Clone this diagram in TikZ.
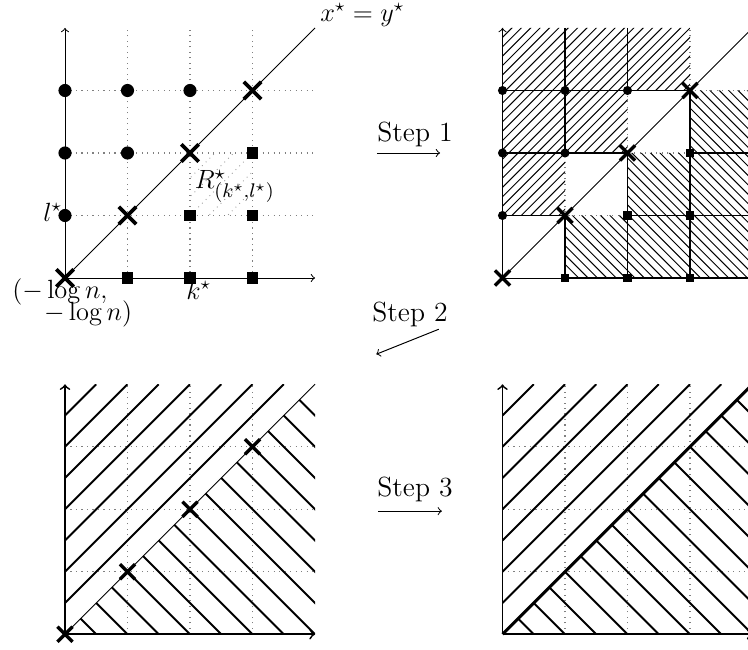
\documentclass[tikz,border=0pt]{standalone}
\usetikzlibrary{shapes.misc}
\begin{document}
\begin{tikzpicture}[x=1cm,y=1cm,
  gridline/.style={gray, dotted, line width=0.5pt},
  rgrid/.style={gray!80, dotted, line width=0.4pt},
  axisthin/.style={->, line width=0.45pt},
  axisthick/.style={->, line width=0.8pt},
  diagthin/.style={line width=0.4pt},
  diagthick/.style={line width=1.3pt},
  edgethick/.style={line width=0.9pt},
  hatchthin/.style={line width=0.45pt},
  hatchthick/.style={line width=0.85pt},
  xmark/.style={cross out, draw, line width=1.7pt, minimum size=0.22cm, inner sep=0pt},
  xmarksmall/.style={cross out, draw, line width=1.5pt, minimum size=0.19cm, inner sep=0pt},
  bigdot/.style={circle, fill, inner sep=0pt, minimum size=0.21cm},
  smalldot/.style={circle, fill, inner sep=0pt, minimum size=0.145cm},
  bigsq/.style={rectangle, fill, inner sep=0pt, minimum size=0.19cm},
  smallsq/.style={rectangle, fill, inner sep=0pt, minimum size=0.135cm},
  lbl/.style={inner sep=0pt, font=\fontsize{12}{14}\selectfont},
  biglbl/.style={inner sep=0pt, font=\fontsize{13.2}{15}\selectfont},
  steplbl/.style={inner sep=0pt, font=\fontsize{12.6}{15}\selectfont},
  steparrow/.style={->, line width=0.45pt}]
\clip (-1.04,-5.936) rectangle (10.928,4.448);

% ---------------- top-left panel ----------------
\begin{scope}
  \foreach \i in {1,2,3} {
    \draw[gridline] (\i,0) -- (\i,4);
    \draw[gridline] (0,\i) -- (4,\i);
  }
  \begin{scope}
    \clip (2,1) rectangle (3,2);
    \foreach \c in {-0.6,-0.3,0,0.3,0.6}
      \draw[rgrid] (1,\c) -- (4,3+\c);
  \end{scope}
  \coordinate (A-o) at (0,0);
  \coordinate (A-x) at (4,0);
  \coordinate (A-y) at (0,4);
  \coordinate (A-d) at (4,4);
  \draw[axisthin] (A-o) -- (A-x);
  \draw[axisthin] (A-o) -- (A-y);
  \draw[diagthin] (A-o) -- (A-d);
  \foreach \p/\q in {0/1,0/2,0/3,1/2,1/3,2/3}
    \node[bigdot] (A-c\p\q) at (\p,\q) {};
  \foreach \p/\q in {1/0,2/0,3/0,2/1,3/1,3/2}
    \node[bigsq] (A-s\p\q) at (\p,\q) {};
  \foreach \p in {0,1,2,3}
    \node[xmark] (A-x\p) at (\p,\p) {};
  \node[lbl, anchor=west] (A-diaglbl) at (4.08,4.21) {$x^\star = y^\star$};
  \node[lbl, anchor=east] (A-l) at (-0.04,1.05) {$l^\star$};
  \node[lbl] (A-k) at (2.14,-0.19) {$k^\star$};
  \node[biglbl] (A-o1) at (-0.08,-0.23) {$(-\log n,$};
  \node[biglbl] (A-o2) at (0.37,-0.58) {$-\log n)$};
  \node[biglbl, anchor=west] (A-R) at (2.07,1.47) {$R^\star_{(k^\star,l^\star)}$};
\end{scope}

% ---------------- top-right panel ----------------
\begin{scope}[shift={(7,0)}]
  \foreach \i in {1,2,3} {
    \draw[gridline] (\i,0) -- (\i,4);
    \draw[gridline] (0,\i) -- (4,\i);
  }
  \begin{scope}
    \clip (0,1) -- (1,1) -- (1,2) -- (2,2) -- (2,3) -- (3,3) -- (3,4) -- (0,4) -- cycle;
    \foreach \k in {-36,...,24}
      \draw[hatchthin] ({\k*0.15+0.05},0) -- ++(5,5);
  \end{scope}
  \begin{scope}
    \clip (1,0) -- (4,0) -- (4,3) -- (3,3) -- (3,2) -- (2,2) -- (2,1) -- (1,1) -- cycle;
    \foreach \k in {0,...,52}
      \draw[hatchthin] ({\k*0.15+0.02},0) -- ++(-5,5);
  \end{scope}
  \coordinate (B-o) at (0,0);
  \coordinate (B-x) at (4,0);
  \coordinate (B-y) at (0,4);
  \coordinate (B-d) at (4,4);
  \draw[axisthin] (B-o) -- (B-x);
  \draw[axisthin] (B-o) -- (B-y);
  \draw[diagthin] (B-o) -- (B-d);
  \foreach \p/\q in {0/1,0/2,0/3,1/2,1/3,2/3,1/0,2/0,3/0,2/1,3/1,3/2}
    \draw[edgethick] (\p,\q+1) -- (\p,\q) -- (\p+1,\q);
  \foreach \p/\q in {0/1,0/2,0/3,1/2,1/3,2/3}
    \node[smalldot] (B-c\p\q) at (\p,\q) {};
  \foreach \p/\q in {1/0,2/0,3/0,2/1,3/1,3/2}
    \node[smallsq] (B-s\p\q) at (\p,\q) {};
  \foreach \p in {0,1,2,3}
    \node[xmarksmall] (B-x\p) at (\p,\p) {};
\end{scope}

% ---------------- bottom-left panel ----------------
\begin{scope}[shift={(0,-5.7)}]
  \foreach \i in {1,2,3} {
    \draw[gridline] (\i,0) -- (\i,4);
    \draw[gridline] (0,\i) -- (4,\i);
  }
  \begin{scope}
    \clip (0,0) rectangle (4,4);
    \foreach \c in {0.5,1.0,...,3.5}
      \draw[hatchthick] (0,\c) -- ({4-\c},4);
    \foreach \c in {0.5,1.0,...,7.5}
      \draw[hatchthick] ({\c/2},{\c/2}) -- (\c,0);
  \end{scope}
  \coordinate (C-o) at (0,0);
  \coordinate (C-x) at (4,0);
  \coordinate (C-y) at (0,4);
  \coordinate (C-d) at (4,4);
  \draw[axisthick] (C-o) -- (C-x);
  \draw[axisthick] (C-o) -- (C-y);
  \draw[diagthin] (C-o) -- (C-d);
  \foreach \p in {0,1,2,3}
    \node[xmarksmall] (C-x\p) at (\p,\p) {};
\end{scope}

% ---------------- bottom-right panel ----------------
\begin{scope}[shift={(7,-5.7)}]
  \foreach \i in {1,2,3} {
    \draw[gridline] (\i,0) -- (\i,4);
    \draw[gridline] (0,\i) -- (4,\i);
  }
  \begin{scope}
    \clip (0,0) rectangle (4,4);
    \foreach \c in {0.5,1.0,...,3.5}
      \draw[hatchthick] (0,\c) -- ({4-\c},4);
    \foreach \c in {0.5,1.0,...,7.5}
      \draw[hatchthick] ({\c/2},{\c/2}) -- (\c,0);
  \end{scope}
  \coordinate (D-o) at (0,0);
  \coordinate (D-x) at (4,0);
  \coordinate (D-y) at (0,4);
  \coordinate (D-d) at (4,4);
  \draw[axisthick] (D-o) -- (D-x);
  \draw[axisthick] (D-o) -- (D-y);
  \draw[diagthick] (D-o) -- (D-d);
\end{scope}

% ---------------- step labels ----------------
\node[steplbl] (s1) at (5.6,2.29) {Step 1};
\coordinate (s1a) at (4.99,2.0);
\coordinate (s1b) at (6.0,2.0);
\draw[steparrow] (s1a) -- (s1b);

\node[steplbl] (s2) at (5.52,-0.59) {Step 2};
\coordinate (s2a) at (5.98,-0.82);
\coordinate (s2b) at (4.98,-1.22);
\draw[steparrow] (s2a) -- (s2b);

\node[steplbl] (s3) at (5.6,-3.39) {Step 3};
\coordinate (s3a) at (5.01,-3.73);
\coordinate (s3b) at (6.03,-3.73);
\draw[steparrow] (s3a) -- (s3b);
\end{tikzpicture}
\end{document}
